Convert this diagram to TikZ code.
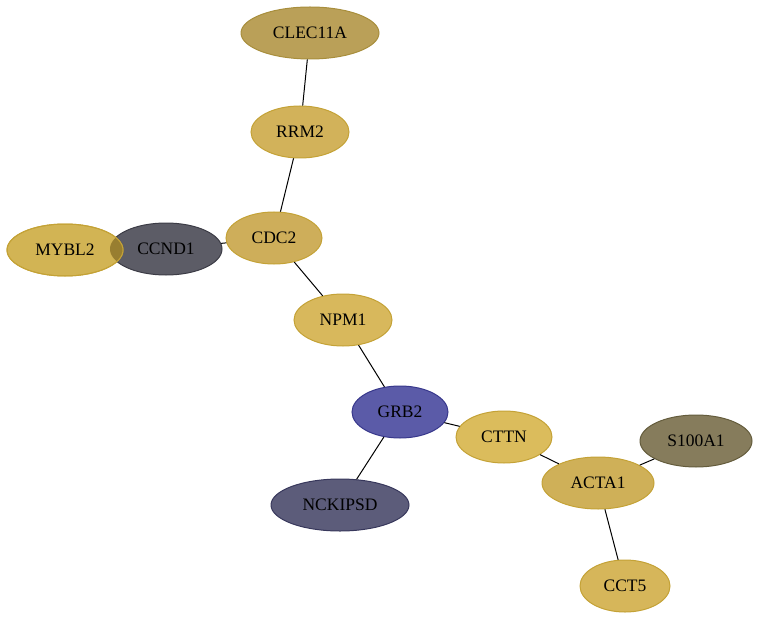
\documentclass[tikz,border=0pt]{standalone}
\usepackage{fontspec}
\setmainfont{Liberation Serif}
\usetikzlibrary{shapes.geometric}
\begin{document}
\begin{tikzpicture}[x=1pt,y=-1pt,
  gnode/.style={ellipse,draw,line width=1pt,inner sep=0pt,font=\fontsize{17.5}{20}\selectfont},
  edge/.style={draw=black,line width=1pt}]
\path[use as bounding box] (0,0) rectangle (759,620);
\definecolor{cgoldb}{HTML}{C4A236}
\definecolor{overlap}{RGB}{152,126,48}
\node[gnode,fill={rgb,255:red,186;green,160;blue,88},draw={rgb,255:red,168;green,142;blue,60},minimum width=138pt,minimum height=52pt] (clec) at (310,33) {CLEC11A};
\node[gnode,fill={rgb,255:red,210;green,178;blue,90},draw=cgoldb,minimum width=98pt,minimum height=52pt] (rrm2) at (300,132) {RRM2};
\node[gnode,fill={rgb,255:red,206;green,174;blue,90},draw=cgoldb,minimum width=96pt,minimum height=52pt] (cdc2) at (274,238) {CDC2};
\node[gnode,fill={rgb,255:red,92;green,92;blue,102},draw={rgb,255:red,60;green,60;blue,70},minimum width=112pt,minimum height=52pt] (ccnd1) at (166,249) {CCND1};
\node[gnode,fill={rgb,255:red,210;green,180;blue,84},draw=cgoldb,minimum width=116pt,minimum height=52pt] (mybl2) at (65,250) {MYBL2};
\begin{scope}
  \clip (mybl2.center) ellipse [x radius=58pt, y radius=26pt];
  \fill[overlap] (ccnd1.center) ellipse [x radius=56pt, y radius=26pt];
\end{scope}
\draw[cgoldb,line width=1pt] (mybl2.center) ellipse [x radius=58pt, y radius=26pt];
\node[gnode,fill={rgb,255:red,216;green,184;blue,92},draw=cgoldb,minimum width=98pt,minimum height=52pt] (npm1) at (343,320) {NPM1};
\node[gnode,fill={rgb,255:red,91;green,91;blue,168},draw={rgb,255:red,56;green,56;blue,140},minimum width=96pt,minimum height=52pt] (grb2) at (400,412) {GRB2};
\node[gnode,fill={rgb,255:red,219;green,188;blue,92},draw=cgoldb,minimum width=96pt,minimum height=52pt] (cttn) at (504,437) {CTTN};
\node[gnode,fill={rgb,255:red,92;green,92;blue,122},draw={rgb,255:red,56;green,56;blue,92},minimum width=138pt,minimum height=52pt] (nck) at (340,505) {NCKIPSD};
\node[gnode,fill={rgb,255:red,207;green,176;blue,88},draw=cgoldb,minimum width=112pt,minimum height=52pt] (acta1) at (598,483) {ACTA1};
\node[gnode,fill={rgb,255:red,134;green,124;blue,92},draw={rgb,255:red,100;green,92;blue,60},minimum width=112pt,minimum height=52pt] (s100) at (696,441) {S100A1};
\node[gnode,fill={rgb,255:red,214;green,182;blue,90},draw=cgoldb,minimum width=90pt,minimum height=52pt] (cct5) at (625,586) {CCT5};
\draw[edge] (clec) -- (rrm2);
\draw[edge] (rrm2) -- (cdc2);
\draw[edge] (cdc2) -- (ccnd1);
\draw[edge] (cdc2) -- (npm1);
\draw[edge] (npm1) -- (grb2);
\draw[edge] (grb2) -- (cttn);
\draw[edge] (grb2) -- (nck);
\draw[edge] (cttn) -- (acta1);
\draw[edge] (acta1) -- (s100);
\draw[edge] (acta1) -- (cct5);
\end{tikzpicture}
\end{document}
